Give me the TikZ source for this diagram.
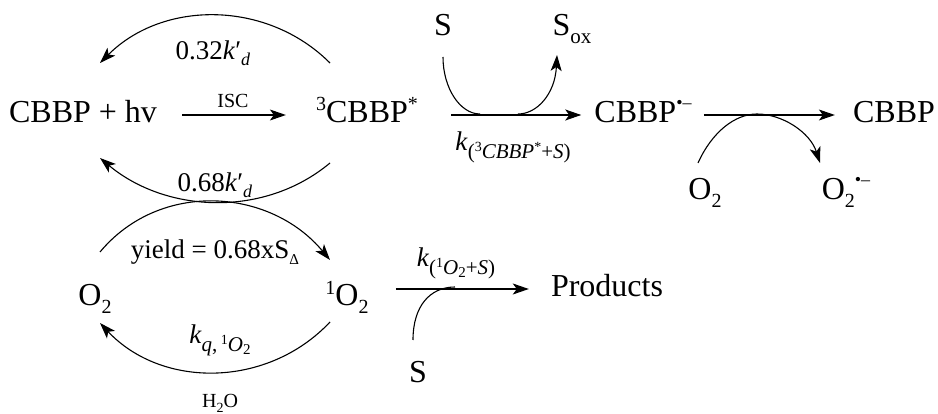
\documentclass[tikz,border=0pt]{standalone}
\usepackage{fontspec}
\setmainfont{Liberation Serif}
\usetikzlibrary{arrows.meta}
\newcommand{\smallsub}[2][-6pt]{\raisebox{#1}{\fontsize{18}{18}\selectfont #2}}
\newcommand{\ksub}[1]{\raisebox{-8pt}{\fontsize{21}{21}\selectfont #1}}
\newcommand{\kup}[1]{\raisebox{7pt}{\fontsize{14}{14}\selectfont #1}}
\newcommand{\kdown}[1]{\raisebox{-3pt}{\fontsize{15}{15}\selectfont #1}}
\newcommand{\lowtwo}{\raisebox{-8pt}{\fontsize{20}{20}\selectfont 2}}
\newcommand{\uptxt}[1]{\raisebox{12pt}{\fontsize{20}{20}\selectfont #1}}
\newcommand{\rad}{\raisebox{14pt}{\fontsize{18}{18}\selectfont •–}}
\begin{document}
\begin{tikzpicture}[x=1pt,y=-1pt,
  big/.style={font=\fontsize{32}{36}\selectfont, inner sep=0pt, text height=23pt, text depth=7pt},
  lbl/.style={font=\fontsize{27}{30}\selectfont, inner sep=0pt},
  sm/.style={font=\fontsize{20}{24}\selectfont, inner sep=0pt},
  ln/.style={line width=1.1pt},
  arr/.style={line width=1.1pt, -{Stealth[length=16pt,width=11pt,inset=4pt]}}]
\useasboundingbox (0,0) rectangle (938,414);
% species
\node[big] (A) at (83,115) {CBBP + hv};
\node[big] (B) at (367,115) {\uptxt{3}CBBP\uptxt{*}};
\node[big] (C) at (643,115) {CBBP\rad};
\node[big] (D) at (894,115) {CBBP};
\node[big] (S1) at (443,28) {S};
\node[big] (Sox) at (572,28) {S\raisebox{-8pt}{\fontsize{21}{21}\selectfont ox}};
\node[big] (O2a) at (705,192) {O\lowtwo};
\node[big] (O2b) at (846,192) {O\lowtwo\rad};
\node[big] (O2L) at (95,298) {O\lowtwo};
\node[big] (SO) at (347,298) {\uptxt{1}O\lowtwo};
\node[big] (P) at (607,289) {Products};
\node[big] (S2) at (418,374) {S};
% labels
\node[lbl] (l1) at (213,53) {0.32\textit{k}′\smallsub{\textit{d}}};
\node[sm] (isc) at (233,101) {ISC};
\node[lbl] (l2) at (215,185) {0.68\textit{k}′\smallsub{\textit{d}}};
\node[lbl] (l3) at (215,252) {yield = 0.68xS\raisebox{-6pt}{\fontsize{15}{15}\selectfont Δ}};
\node[lbl] (l4) at (220,340) {\textit{k}\ksub{\textit{q},\,\kup{1}\textit{O}\kdown{2}}};
\node[sm] (h2o) at (220,403) {H\raisebox{-5pt}{\fontsize{14}{14}\selectfont 2}O};
\node[lbl] (l5) at (513,147) {\textit{k}\ksub{(\kup{3}\textit{CBBP}\kup{*}+\textit{S})}};
\node[lbl] (l6) at (456,263) {\textit{k}\ksub{(\kup{1}\textit{O}\kdown{2}+\textit{S})}};
% straight arrows
\draw[arr] ([xshift=25pt]A.east) -- ([xshift=-30pt]B.west);
\draw[arr] ([xshift=33pt]B.east) -- ([xshift=-13pt]C.west);
\draw[arr] ([xshift=12pt]C.east) -- ([xshift=-18pt]D.west);
\draw[arr] ([xshift=27pt]SO.east |- P.west) -- ([xshift=-22pt]P.west);
% arc end points
\coordinate (a1s) at (330,63);  \coordinate (a1e) at (100,63);
\coordinate (a2s) at (330,163); \coordinate (a2e) at (100,158);
\coordinate (a3s) at (100,252); \coordinate (a3e) at (330,260);
\coordinate (a4s) at (330,322); \coordinate (a4e) at (100,323);
% loops
\draw[arr] (a1s) .. controls (267,0) and (163,0) .. (a1e);
\draw[arr] (a2s) .. controls (264,218) and (166,213) .. (a2e);
\draw[arr] (a3s) .. controls (160,180) and (270,188) .. (a3e);
\draw[arr] (a4s) .. controls (268,388) and (162,389) .. (a4e);
% substrate curves
\coordinate (c1) at (443,57);  \coordinate (m1) at (480,114);
\coordinate (m2) at (518,114); \coordinate (c2) at (557,55);
\draw[ln] (c1) .. controls (443,88) and (460,114) .. (m1);
\draw[arr] (m2) .. controls (537,114) and (555,94) .. (c2);
\coordinate (c3) at (698,163); \coordinate (m3) at (757,114); \coordinate (c4) at (820,163);
\draw[ln] (c3) .. controls (712,132) and (735,114) .. (m3);
\draw[arr] (m3) .. controls (782,114) and (810,132) .. (c4);
\coordinate (c5) at (413,340); \coordinate (m4) at (455,287);
\draw[ln] (c5) .. controls (413,306) and (430,287) .. (m4);
\end{tikzpicture}
\end{document}
